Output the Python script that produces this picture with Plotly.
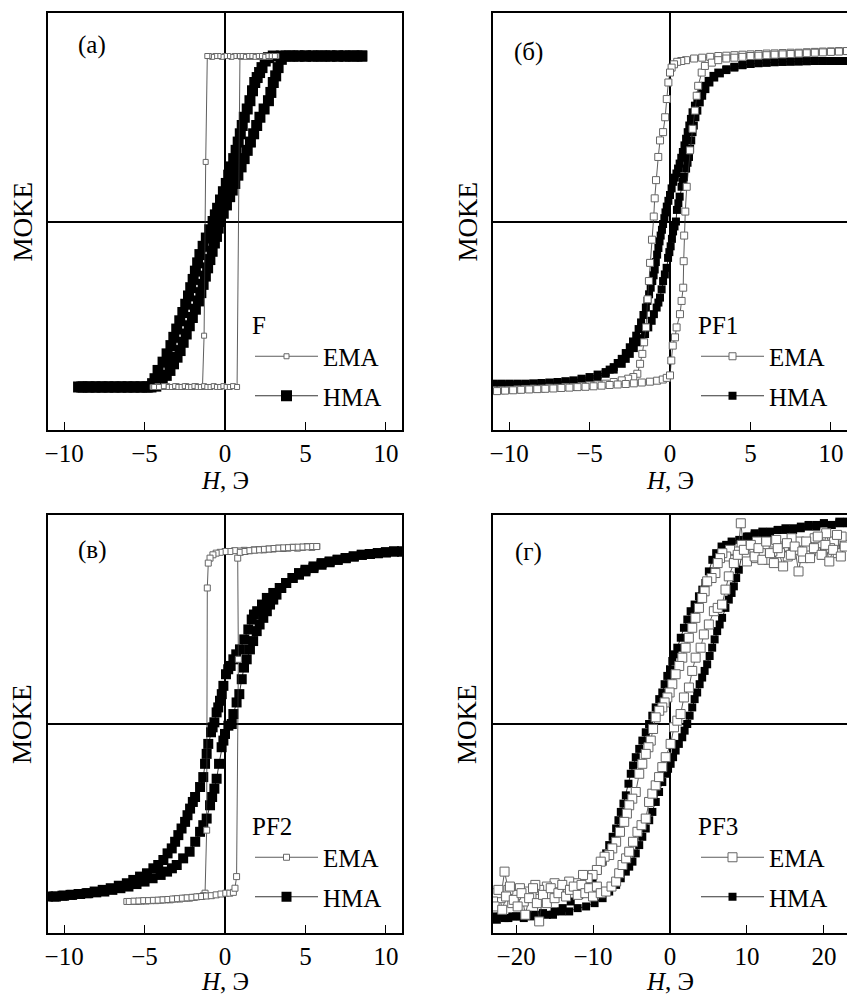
import plotly.graph_objects as go

FONT = "Liberation Serif, Times New Roman, serif"
FS = 25

# ---------------- data (H in Oe, MOKE in normalized units) ----------------
panel_labels = ["(а)", "(б)", "(в)", "(г)"]
sample_names = ["F", "PF1", "PF2", "PF3"]
series_names = ["EMA", "HMA"]
x_ranges = [[-11, 11], [-11, 11], [-11, 11], [-23, 23]]
x_ticks = [[-10, -5, 0, 5, 10], [-10, -5, 0, 5, 10], [-10, -5, 0, 5, 10], [-20, -10, 0, 10, 20]]

# (а) F
a_ema = [(3.2, 1.0), (3.0, 1.0), (2.8, 0.995), (2.6, 1.0), (2.4, 1.0), (2.2, 0.995), (2.0, 1.0), (1.8, 1.0),
         (1.6, 0.995), (1.4, 1.0), (1.2, 1.0), (1.0, 0.995), (0.8, 1.0), (0.6, 1.0), (0.4, 0.995), (0.2, 1.0),
         (0.0, 1.0), (-0.2, 0.995), (-0.4, 1.0), (-0.6, 1.0), (-0.8, 0.995), (-1.0, 1.0), (-1.1, 1.0),
         (-1.2, 0.36), (-1.3, -0.69), (-1.4, -1.0), (-1.6, -1.0), (-1.8, -0.995), (-2.0, -1.0), (-2.2, -1.0),
         (-2.4, -0.995), (-2.6, -1.0), (-2.8, -1.0), (-3.0, -0.995), (-3.2, -1.0), (-3.4, -1.0), (-3.6, -0.995),
         (-3.8, -1.0), (-4.0, -1.0), (-4.2, -0.995), (-4.5, -1.0),
         (-4.4, -1.0), (-4.1, -1.0), (-3.8, -0.995), (-3.5, -1.0), (-3.3, -1.0), (-3.1, -0.995), (-2.9, -1.0),
         (-2.7, -1.0), (-2.5, -0.995), (-2.3, -1.0), (-2.1, -1.0), (-1.9, -0.995), (-1.7, -1.0), (-1.5, -1.0),
         (-1.3, -0.995), (-1.1, -1.0), (-0.9, -1.0), (-0.7, -0.995), (-0.5, -1.0), (-0.3, -1.0), (-0.1, -0.995),
         (0.1, -1.0), (0.3, -1.0), (0.5, -0.995), (0.75, -1.0), (0.93, 1.0), (1.1, 1.0), (1.3, 0.995),
         (1.5, 1.0), (1.7, 1.0), (1.9, 0.995), (2.1, 1.0), (2.3, 1.0), (2.5, 0.995), (2.7, 1.0), (2.9, 1.0),
         (3.1, 1.0)]
a_hma = [(8.5, 1.0), (8.0, 1.0), (7.5, 1.0), (7.0, 1.0), (6.5, 1.0), (6.0, 1.0), (5.5, 1.0), (5.0, 1.0),
         (4.5, 1.0), (4.0, 1.0), (3.5, 1.0), (3.0, 1.0), (2.7, 0.99), (2.5, 0.97), (2.3, 0.93), (2.15, 0.90),
         (2.0, 0.87), (1.85, 0.84), (1.71, 0.79), (1.55, 0.73), (1.38, 0.68), (1.2, 0.63), (1.07, 0.58),
         (0.95, 0.53), (0.82, 0.48), (0.69, 0.43), (0.54, 0.38), (0.39, 0.33), (0.23, 0.28), (0.08, 0.23),
         (-0.10, 0.18), (-0.28, 0.13), (-0.46, 0.08), (-0.6, 0.04), (-0.74, 0.0), (-0.95, -0.05),
         (-1.16, -0.10), (-1.36, -0.15), (-1.56, -0.20), (-1.70, -0.25), (-1.84, -0.30), (-1.98, -0.35),
         (-2.13, -0.40), (-2.27, -0.45), (-2.44, -0.50), (-2.62, -0.55), (-2.81, -0.60), (-3.0, -0.65),
         (-3.18, -0.70), (-3.36, -0.75), (-3.6, -0.80), (-3.85, -0.85), (-4.16, -0.90), (-4.35, -0.95),
         (-4.5, -0.98), (-4.8, -1.0), (-5.2, -1.0), (-5.6, -1.0), (-6.0, -1.0), (-6.4, -1.0), (-6.8, -1.0),
         (-7.2, -1.0), (-7.6, -1.0), (-8.0, -1.0), (-8.4, -1.0), (-8.8, -1.0), (-9.1, -1.0),
         (-8.9, -1.0), (-8.5, -1.0), (-8.1, -1.0), (-7.7, -1.0), (-7.3, -1.0), (-6.9, -1.0), (-6.5, -1.0),
         (-6.1, -1.0), (-5.7, -1.0), (-5.3, -1.0), (-4.9, -1.0), (-4.6, -1.0), (-4.3, -0.995), (-4.1, -0.98),
         (-3.9, -0.96), (-3.65, -0.93), (-3.42, -0.90), (-3.2, -0.86), (-2.98, -0.82), (-2.79, -0.78),
         (-2.6, -0.73), (-2.41, -0.68), (-2.22, -0.63), (-2.03, -0.58), (-1.84, -0.53), (-1.65, -0.48),
         (-1.5, -0.43), (-1.36, -0.38), (-1.22, -0.33), (-1.08, -0.28), (-0.94, -0.23), (-0.8, -0.18),
         (-0.66, -0.13), (-0.53, -0.09), (-0.42, -0.04), (-0.31, 0.0), (-0.11, 0.05), (0.09, 0.10),
         (0.29, 0.15), (0.45, 0.19), (0.61, 0.23), (0.8, 0.28), (1.0, 0.33), (1.19, 0.38), (1.38, 0.43),
         (1.58, 0.48), (1.78, 0.53), (1.97, 0.58), (2.17, 0.63), (2.43, 0.68), (2.7, 0.73), (2.85, 0.78),
         (3.0, 0.84), (3.15, 0.88), (3.3, 0.93), (3.5, 0.98), (3.8, 1.0), (4.2, 1.0), (4.6, 1.0), (5.0, 1.0),
         (5.4, 1.0), (5.8, 1.0), (6.2, 1.0), (6.6, 1.0), (7.0, 1.0), (7.4, 1.0), (7.8, 1.0), (8.2, 1.0),
         (8.5, 1.0)]

# (б) PF1
b_ema = [(11, 1.03), (10.5, 1.03), (10, 1.028), (9.5, 1.027), (9, 1.025), (8.5, 1.023), (8, 1.02), (7.5, 1.02),
         (7, 1.018), (6.5, 1.016), (6, 1.015), (5.5, 1.012), (5, 1.01), (4.5, 1.008), (4, 1.005), (3.5, 1.002),
         (3, 1.0), (2.5, 0.995), (2, 0.99), (1.5, 0.985), (1.0, 0.975), (0.7, 0.97), (0.45, 0.965), (0.25, 0.95),
         (0.1, 0.93), (0.0, 0.90), (-0.1, 0.84), (-0.2, 0.74), (-0.3, 0.63), (-0.43, 0.54), (-0.62, 0.49),
         (-0.73, 0.39), (-0.87, 0.25), (-0.95, 0.14), (-1.01, 0.03), (-1.12, -0.11), (-1.24, -0.25),
         (-1.31, -0.36), (-1.39, -0.47), (-1.49, -0.64), (-1.61, -0.73), (-1.72, -0.80), (-1.86, -0.86),
         (-2.03, -0.92), (-2.28, -0.94), (-2.6, -0.95), (-3.0, -0.96), (-3.5, -0.97), (-4, -0.98), (-4.5, -0.985),
         (-5, -0.99), (-5.5, -0.995), (-6, -1.0), (-6.5, -1.0), (-7, -1.005), (-7.5, -1.005), (-8, -1.01),
         (-8.5, -1.01), (-9, -1.012), (-9.5, -1.015), (-10, -1.018), (-10.5, -1.02), (-11, -1.02),
         (-10.75, -1.025), (-10.25, -1.022), (-9.75, -1.02), (-9.25, -1.017), (-8.75, -1.015), (-8.25, -1.013),
         (-7.75, -1.011), (-7.25, -1.009), (-6.75, -1.006), (-6.25, -1.004), (-5.75, -1.001), (-5.25, -0.999),
         (-4.75, -0.996), (-4.25, -0.992), (-3.75, -0.988), (-3.25, -0.985), (-2.75, -0.982), (-2.25, -0.978),
         (-1.75, -0.973), (-1.25, -0.968), (-0.8, -0.962), (-0.45, -0.955), (-0.2, -0.945), (0.0, -0.93),
         (0.08, -0.84), (0.17, -0.75), (0.31, -0.70), (0.41, -0.64), (0.62, -0.56), (0.72, -0.48), (0.82, -0.40),
         (0.85, -0.24), (0.88, -0.085), (0.95, 0.06), (1.04, 0.21), (1.24, 0.43), (1.4, 0.56), (1.55, 0.67),
         (1.66, 0.76), (1.75, 0.82), (1.97, 0.90), (2.17, 0.94), (2.6, 0.96), (3.0, 0.975), (3.5, 0.985),
         (4.0, 0.99), (4.5, 0.995), (5.0, 1.0), (5.5, 1.002), (6.0, 1.005), (6.5, 1.008), (7.0, 1.01),
         (7.5, 1.012), (8.0, 1.015), (8.5, 1.017), (9.0, 1.02), (9.5, 1.022), (10.0, 1.025), (10.5, 1.027),
         (11, 1.03)]
b_hma = [(11, 0.97), (10.5, 0.97), (10, 0.97), (9.5, 0.97), (9, 0.97), (8.5, 0.968), (8, 0.967), (7.5, 0.966),
         (7, 0.965), (6.5, 0.963), (6, 0.96), (5.5, 0.957), (5, 0.952), (4.5, 0.945), (4, 0.935), (3.5, 0.92),
         (3.0, 0.90), (2.7, 0.88), (2.4, 0.85), (2.15, 0.82), (2.0, 0.79), (1.85, 0.76), (1.7, 0.73),
         (1.55, 0.70), (1.4, 0.66), (1.3, 0.62), (1.2, 0.58), (1.1, 0.54), (1.0, 0.50), (0.9, 0.46), (0.8, 0.42),
         (0.7, 0.385), (0.6, 0.35), (0.5, 0.32), (0.4, 0.29), (0.3, 0.265), (0.2, 0.24), (0.1, 0.20), (0.0, 0.16),
         (-0.1, 0.125), (-0.2, 0.09), (-0.28, 0.055), (-0.35, 0.02), (-0.43, -0.015), (-0.5, -0.05),
         (-0.58, -0.085), (-0.65, -0.12), (-0.72, -0.16), (-0.8, -0.20), (-0.88, -0.245), (-0.95, -0.29),
         (-1.02, -0.325), (-1.1, -0.36), (-1.2, -0.40), (-1.3, -0.44), (-1.4, -0.48), (-1.5, -0.52),
         (-1.65, -0.565), (-1.8, -0.61), (-1.95, -0.65), (-2.1, -0.69), (-2.3, -0.725), (-2.5, -0.76),
         (-2.75, -0.795), (-3.0, -0.83), (-3.25, -0.855), (-3.5, -0.88), (-3.75, -0.895), (-4.0, -0.91),
         (-4.5, -0.925), (-5.0, -0.94), (-5.5, -0.95), (-6.0, -0.96), (-6.5, -0.965), (-7.0, -0.97),
         (-7.5, -0.973), (-8.0, -0.976), (-8.5, -0.978), (-9.0, -0.98), (-9.5, -0.98), (-10, -0.98),
         (-10.5, -0.98), (-11, -0.98),
         (-11, -0.99), (-10.5, -0.99), (-10, -0.99), (-9.5, -0.988), (-9, -0.986), (-8.5, -0.984), (-8, -0.982),
         (-7.5, -0.98), (-7, -0.976), (-6.5, -0.972), (-6, -0.967), (-5.5, -0.96), (-5, -0.952), (-4.5, -0.94),
         (-4, -0.92), (-3.5, -0.895), (-3.0, -0.86), (-2.75, -0.83), (-2.5, -0.80), (-2.25, -0.765),
         (-2.0, -0.73), (-1.78, -0.705), (-1.55, -0.68), (-1.35, -0.64), (-1.14, -0.60), (-1.0, -0.56),
         (-0.83, -0.52), (-0.72, -0.49), (-0.62, -0.46), (-0.52, -0.41), (-0.43, -0.36), (-0.32, -0.32),
         (-0.21, -0.28), (-0.12, -0.22), (-0.04, -0.185), (0.04, -0.15), (0.12, -0.105), (0.19, -0.06),
         (0.28, -0.03), (0.37, 0.0), (0.43, 0.07), (0.52, 0.11), (0.6, 0.15), (0.72, 0.21), (0.8, 0.24),
         (0.87, 0.27), (1.0, 0.32), (1.09, 0.355), (1.18, 0.39), (1.25, 0.44), (1.32, 0.49), (1.4, 0.54),
         (1.48, 0.58), (1.58, 0.63), (1.7, 0.67), (1.85, 0.72), (2.0, 0.76), (2.2, 0.80), (2.45, 0.84),
         (2.75, 0.87), (3.1, 0.895), (3.5, 0.915), (4.0, 0.93), (4.5, 0.945), (5.0, 0.952), (5.5, 0.957),
         (6.0, 0.96), (6.5, 0.963), (7.0, 0.965), (7.5, 0.967), (8.0, 0.968), (8.5, 0.97), (9.0, 0.97),
         (9.5, 0.97), (10, 0.97), (10.5, 0.97), (11, 0.97)]

# (в) PF2
c_ema = [(5.7, 1.07), (5.4, 1.065), (5.1, 1.07), (4.8, 1.065), (4.5, 1.06), (4.2, 1.065), (3.9, 1.06),
         (3.6, 1.058), (3.3, 1.06), (3.0, 1.055), (2.7, 1.055), (2.4, 1.05), (2.1, 1.052), (1.8, 1.05),
         (1.5, 1.045), (1.2, 1.047), (0.9, 1.043), (0.6, 1.045), (0.3, 1.04), (0.0, 1.04), (-0.3, 1.035),
         (-0.55, 1.03), (-0.75, 1.02), (-0.93, 1.0), (-1.04, 0.97), (-1.1, 0.82), (-1.14, -0.64), (-1.24, -1.02),
         (-1.35, -1.035), (-1.6, -1.04), (-1.9, -1.045), (-2.2, -1.05), (-2.5, -1.05), (-2.8, -1.055),
         (-3.1, -1.055), (-3.4, -1.06), (-3.7, -1.06), (-4.0, -1.062), (-4.3, -1.065), (-4.6, -1.065),
         (-4.9, -1.067), (-5.2, -1.068), (-5.5, -1.07), (-5.8, -1.07), (-6.1, -1.07),
         (-5.95, -1.07), (-5.65, -1.068), (-5.35, -1.067), (-5.05, -1.065), (-4.75, -1.065), (-4.45, -1.063),
         (-4.15, -1.062), (-3.85, -1.06), (-3.55, -1.058), (-3.25, -1.055), (-2.95, -1.053), (-2.65, -1.05),
         (-2.35, -1.048), (-2.05, -1.045), (-1.75, -1.042), (-1.45, -1.04), (-1.15, -1.037), (-0.85, -1.035),
         (-0.55, -1.03), (-0.25, -1.025), (0.05, -1.02), (0.3, -1.02), (0.52, -1.015), (0.62, -0.99),
         (0.72, -0.92), (0.83, 0.39), (0.79, 1.0), (0.95, 1.035), (1.25, 1.04), (1.55, 1.045), (1.85, 1.048),
         (2.15, 1.05), (2.45, 1.053), (2.75, 1.055), (3.05, 1.058), (3.35, 1.06), (3.65, 1.062), (3.95, 1.063),
         (4.25, 1.065), (4.55, 1.066), (4.85, 1.067), (5.15, 1.068), (5.45, 1.07), (5.7, 1.07)]
c_hma = [(11, 1.04), (10.5, 1.04), (10, 1.035), (9.5, 1.03), (9, 1.025), (8.5, 1.02), (8, 1.01), (7.5, 1.0),
         (7, 0.99), (6.5, 0.975), (6, 0.96), (5.5, 0.94), (5, 0.92), (4.6, 0.90), (4.2, 0.88), (3.8, 0.85),
         (3.4, 0.82), (3.0, 0.79), (2.6, 0.76), (2.3, 0.72), (2.0, 0.68), (1.8, 0.66), (1.66, 0.63),
         (1.45, 0.57), (1.2, 0.51), (0.93, 0.45), (0.7, 0.42), (0.52, 0.39), (0.35, 0.35), (0.2, 0.33),
         (0.06, 0.30), (-0.1, 0.23), (-0.2, 0.18), (-0.31, 0.14), (-0.42, 0.10), (-0.52, 0.07), (-0.66, 0.01),
         (-0.77, -0.02), (-0.87, -0.05), (-1.04, -0.12), (-1.14, -0.18), (-1.24, -0.24), (-1.35, -0.32),
         (-1.55, -0.38), (-1.86, -0.44), (-2.0, -0.47), (-2.17, -0.51), (-2.33, -0.55), (-2.48, -0.59),
         (-2.7, -0.63), (-2.9, -0.67), (-3.1, -0.71), (-3.31, -0.75), (-3.57, -0.78), (-3.83, -0.82),
         (-4.15, -0.85), (-4.45, -0.87), (-4.85, -0.90), (-5.28, -0.92), (-5.7, -0.94), (-6.1, -0.96),
         (-6.6, -0.975), (-7.1, -0.99), (-7.6, -1.0), (-8.1, -1.01), (-8.6, -1.02), (-9.1, -1.025),
         (-9.6, -1.03), (-10.1, -1.035), (-10.6, -1.04), (-11, -1.04),
         (-10.5, -1.04), (-10, -1.035), (-9.5, -1.03), (-9, -1.025), (-8.5, -1.02), (-8, -1.015), (-7.5, -1.01),
         (-7, -1.0), (-6.5, -0.99), (-6, -0.98), (-5.5, -0.965), (-5, -0.95), (-4.5, -0.93), (-4.0, -0.91),
         (-3.6, -0.89), (-3.3, -0.87), (-3.0, -0.85), (-2.6, -0.81), (-2.2, -0.77), (-1.85, -0.71),
         (-1.55, -0.65), (-1.35, -0.61), (-1.14, -0.57), (-0.93, -0.49), (-0.8, -0.44), (-0.66, -0.39),
         (-0.52, -0.33), (-0.37, -0.24), (-0.21, -0.14), (-0.1, -0.10), (0.0, -0.06), (0.21, -0.01), (0.42, 0.0),
         (0.52, 0.06), (0.72, 0.13), (0.89, 0.18), (1.04, 0.27), (1.18, 0.34), (1.35, 0.39), (1.55, 0.45),
         (1.75, 0.50), (1.97, 0.56), (2.15, 0.60), (2.38, 0.64), (2.6, 0.68), (2.8, 0.72), (3.0, 0.75),
         (3.2, 0.78), (3.5, 0.82), (3.8, 0.85), (4.2, 0.88), (4.6, 0.91), (5.0, 0.93), (5.5, 0.95), (6, 0.97),
         (6.5, 0.98), (7, 0.99), (7.5, 1.0), (8, 1.01), (8.5, 1.02), (9, 1.025), (9.5, 1.03), (10, 1.035),
         (10.5, 1.04), (11, 1.04)]

# (г) PF3
d_ema = [(22.8, 1.08), (22.3, 1.13), (21.8, 1.03), (21.3, 1.10), (20.8, 1.06), (20.3, 1.15), (19.8, 1.02),
         (19.3, 1.09), (18.8, 1.12), (18.3, 1.04), (17.8, 1.07), (17.3, 1.0), (16.8, 1.10), (16.3, 1.05),
         (15.8, 1.12), (15.3, 1.01), (14.8, 1.07), (14.3, 1.03), (13.8, 1.11), (13.3, 1.04), (12.8, 0.99),
         (12.3, 1.08), (11.8, 1.03), (11.3, 1.10), (10.8, 1.0), (10.3, 1.06), (9.8, 1.02), (9.3, 1.08),
         (8.8, 1.04), (8.3, 0.99), (7.8, 1.05), (7.3, 1.01), (6.8, 1.03), (6.5, 1.0), (6.2, 0.97), (5.9, 0.91),
         (5.4, 0.88), (4.83, 0.86), (4.5, 0.80), (4.18, 0.76), (3.76, 0.70), (3.3, 0.64), (2.89, 0.58),
         (2.45, 0.52), (2.03, 0.46), (1.6, 0.40), (1.2, 0.35), (0.73, 0.30), (0.30, 0.24), (-0.05, 0.19),
         (-0.35, 0.16), (-0.7, 0.13), (-1.0, 0.10), (-1.4, 0.08), (-1.86, 0.04), (-2.2, -0.03), (-2.5, -0.10),
         (-2.8, -0.14), (-3.15, -0.18), (-3.6, -0.24), (-4.0, -0.30), (-4.45, -0.41), (-4.9, -0.45),
         (-5.3, -0.49), (-5.6, -0.54), (-5.95, -0.59), (-6.5, -0.65), (-7.0, -0.71), (-7.5, -0.75),
         (-7.9, -0.79), (-8.5, -0.80), (-9.0, -0.83), (-9.5, -0.88), (-10.06, -0.91), (-10.7, -0.93),
         (-11.3, -0.91), (-12.2, -0.96), (-13.1, -0.95), (-13.7, -1.0), (-14.4, -0.99), (-15.0, -0.96),
         (-15.5, -1.03), (-16.0, -0.98), (-16.5, -1.06), (-17.0, -1.0), (-17.5, -0.97), (-18.0, -1.04),
         (-18.5, -1.01), (-19.0, -1.07), (-19.5, -0.99), (-20.0, -1.03), (-20.5, -1.08), (-21.0, -1.0),
         (-21.5, -0.89), (-22.0, -1.05), (-22.5, -1.02), (-23.0, -1.07),
         (-22.8, -1.1), (-22.3, -1.0), (-21.8, -1.12), (-21.3, -1.04), (-20.8, -0.98), (-20.3, -1.06),
         (-19.8, -1.1), (-19.3, -1.02), (-18.8, -1.15), (-18.3, -1.05), (-17.8, -0.99), (-17.3, -1.08),
         (-17.0, -1.19), (-16.5, -1.03), (-16.0, -1.08), (-15.5, -0.99), (-15.0, -1.05), (-14.5, -1.02),
         (-14.0, -0.97), (-13.5, -1.04), (-13.0, -1.0), (-12.5, -0.98), (-12.0, -1.03), (-11.5, -0.97),
         (-11.0, -1.02), (-10.5, -0.99), (-10.0, -1.04), (-9.5, -0.98), (-9.0, -1.02), (-8.3, -1.01),
         (-7.6, -0.98), (-7.0, -0.95), (-6.6, -0.9), (-6.17, -0.85), (-5.7, -0.81), (-5.3, -0.77), (-4.8, -0.71),
         (-4.23, -0.65), (-3.7, -0.61), (-3.15, -0.57), (-2.72, -0.47), (-2.3, -0.42), (-1.86, -0.37),
         (-1.42, -0.32), (-1.0, -0.26), (-0.56, -0.20), (0.08, -0.12), (0.52, -0.02), (0.95, 0.02), (1.38, 0.06),
         (1.81, 0.16), (2.46, 0.22), (2.89, 0.32), (3.33, 0.40), (3.98, 0.46), (4.4, 0.54), (5.05, 0.60),
         (5.7, 0.68), (6.2, 0.70), (6.77, 0.72), (7.21, 0.81), (7.64, 0.89), (8.3, 0.97), (8.8, 1.02),
         (9.2, 1.21), (9.6, 1.05), (10.0, 0.98), (10.5, 1.08), (11.0, 1.01), (11.5, 1.06), (12.0, 0.99),
         (12.5, 1.1), (13.0, 1.03), (13.5, 0.97), (14.0, 1.06), (14.7, 0.95), (15.2, 1.09), (15.7, 1.02),
         (16.2, 1.07), (16.7, 0.92), (17.2, 1.04), (17.7, 1.1), (18.2, 1.0), (18.7, 1.06), (19.2, 1.13),
         (19.7, 1.02), (20.2, 1.08), (20.7, 0.98), (21.2, 1.05), (21.7, 1.14), (22.2, 1.01), (22.7, 1.07)]
d_hma = [(23, 1.22), (22, 1.21), (21, 1.2), (20, 1.21), (19, 1.19), (18, 1.2), (17, 1.18), (16, 1.18),
         (15, 1.17), (14, 1.17), (13, 1.16), (12, 1.15), (11, 1.15), (10, 1.13), (9, 1.11), (8, 1.1),
         (7.3, 1.08), (6.7, 1.07), (6.0, 1.03), (5.5, 0.99), (5.05, 0.92), (4.6, 0.85), (4.2, 0.81),
         (3.76, 0.77), (3.2, 0.72), (2.68, 0.68), (2.25, 0.63), (1.81, 0.58), (1.4, 0.52), (0.95, 0.46),
         (0.6, 0.42), (0.30, 0.38), (0.0, 0.33), (-0.35, 0.29), (-0.7, 0.24), (-1.0, 0.19), (-1.4, 0.15),
         (-1.86, 0.10), (-2.3, 0.05), (-2.72, 0.0), (-3.15, -0.05), (-3.59, -0.10), (-4.0, -0.15),
         (-4.45, -0.20), (-4.8, -0.25), (-5.1, -0.30), (-5.4, -0.36), (-5.74, -0.43), (-6.05, -0.48),
         (-6.39, -0.53), (-6.7, -0.58), (-7.0, -0.63), (-7.45, -0.68), (-7.9, -0.73), (-8.3, -0.78),
         (-8.76, -0.83), (-9.4, -0.88), (-10.06, -0.93), (-10.9, -0.98), (-11.8, -1.03), (-12.9, -1.07),
         (-13.95, -1.11), (-15, -1.13), (-16, -1.15), (-17, -1.16), (-18, -1.16), (-19, -1.17), (-20, -1.16),
         (-21, -1.17), (-22, -1.16), (-23, -1.16),
         (-22.5, -1.18), (-21.5, -1.17), (-20.5, -1.16), (-19.5, -1.16), (-18.5, -1.15), (-17.5, -1.15),
         (-16.5, -1.14), (-15.2, -1.15), (-14.1, -1.13), (-13.1, -1.13), (-12.0, -1.11), (-10.9, -1.10),
         (-9.8, -1.08), (-8.76, -1.05), (-7.9, -1.01), (-7.0, -0.97), (-6.4, -0.93), (-5.74, -0.89),
         (-5.3, -0.86), (-4.88, -0.83), (-4.45, -0.78), (-4.0, -0.73), (-3.6, -0.68), (-3.15, -0.63),
         (-2.7, -0.58), (-2.29, -0.53), (-1.85, -0.47), (-1.42, -0.41), (-1.0, -0.35), (-0.56, -0.30),
         (-0.25, -0.27), (0.08, -0.24), (0.4, -0.20), (0.73, -0.16), (1.15, -0.12), (1.59, -0.08),
         (1.9, -0.04), (2.24, 0.0), (2.55, 0.05), (2.89, 0.10), (3.2, 0.15), (3.53, 0.19), (3.85, 0.24),
         (4.18, 0.28), (4.5, 0.32), (4.83, 0.36), (5.15, 0.41), (5.48, 0.46), (5.8, 0.51), (6.13, 0.56),
         (6.45, 0.60), (6.77, 0.64), (7.2, 0.70), (7.64, 0.75), (8.0, 0.79), (8.3, 0.83), (8.6, 0.88),
         (8.94, 0.93), (9.5, 1.05), (10.2, 1.13), (11, 1.14), (12, 1.16), (13, 1.15), (14, 1.17), (15, 1.18),
         (16, 1.17), (17, 1.19), (18, 1.19), (19, 1.2), (20, 1.21), (21, 1.2), (22, 1.22), (23, 1.21)]

ema_data = [a_ema, b_ema, c_ema, d_ema]
hma_data = [a_hma, b_hma, c_hma, d_hma]

# ---------------- styling / layout ----------------
W, H = 847, 997
col_px = [(48, 402), (493, 847)]
row_px = [(13, 430), (515, 933)]
ema_size = [5, 7, 6, 9]
hma_size = [11, 8, 10, 8]

fig = go.Figure()
layout = dict(width=W, height=H, margin=dict(l=0, r=0, t=0, b=0),
              paper_bgcolor="white", plot_bgcolor="white", showlegend=True,
              font=dict(family=FONT, size=FS, color="black"))
annotations = []

for i in range(4):
    r, c = divmod(i, 2)
    sfx = "" if i == 0 else str(i + 1)
    xa, ya = "x" + sfx, "y" + sfx
    lg = "legend" + sfx
    x0, x1 = col_px[c]
    y0, y1 = row_px[r]
    xdom = [x0 / W, x1 / W]
    ydom = [1 - y1 / H, 1 - y0 / H]

    hh, hm = zip(*hma_data[i])
    fig.add_trace(go.Scatter(
        x=list(hh), y=list(hm), mode="lines+markers", name=series_names[1],
        xaxis=xa, yaxis=ya, legend=lg, legendgroup="h" + str(i), legendrank=2,
        line=dict(color="black", width=0.8),
        marker=dict(symbol="square", size=hma_size[i], color="black", line=dict(width=0))))
    eh, em = zip(*ema_data[i])
    fig.add_trace(go.Scatter(
        x=list(eh), y=list(em), mode="lines+markers", name=series_names[0],
        xaxis=xa, yaxis=ya, legend=lg, legendgroup="e" + str(i), legendrank=1,
        line=dict(color="#333333", width=0.8),
        marker=dict(symbol="square", size=ema_size[i], color="white",
                    line=dict(color="#666666", width=1))))

    layout["xaxis" + sfx] = dict(
        domain=xdom, range=x_ranges[i], anchor=ya, tickvals=x_ticks[i], ticks="inside",
        ticklen=8, tickwidth=1, tickcolor="black", showline=True, mirror=True, linecolor="black",
        linewidth=1.5, showgrid=False, zeroline=True, zerolinecolor="black", zerolinewidth=1.5,
        automargin=False, ticklabelstandoff=0, tickfont=dict(size=FS, family=FONT, color="black"))
    layout["yaxis" + sfx] = dict(
        domain=ydom, range=[-1.26, 1.26], anchor=xa, showticklabels=False, ticks="",
        showline=True, mirror=True, linecolor="black", linewidth=1.5, showgrid=False,
        zeroline=True, zerolinecolor="black", zerolinewidth=1.5, automargin=False)

    # legend placement inside each panel
    lx = 250 if c == 0 else 696
    ly = 301 if r == 0 else 802
    layout[lg] = dict(x=lx / W, y=1 - ly / H, xanchor="left", yanchor="top",
                      bgcolor="rgba(0,0,0,0)", tracegroupgap=4, itemwidth=63,
                      font=dict(family=FONT, size=FS, color="black"),
                      title=dict(text=sample_names[i], font=dict(family=FONT, size=FS, color="black")))

    # panel label
    lab_xy = [(92, 45), (528, 52), (92, 550), (528, 552)][i]
    annotations.append(dict(text=panel_labels[i], x=lab_xy[0] / W, y=1 - lab_xy[1] / H,
                            xref="paper", yref="paper", showarrow=False,
                            xanchor="center", yanchor="middle",
                            font=dict(family=FONT, size=FS, color="black")))
    # x title
    annotations.append(dict(text="<i>H</i>, Э", x=(225 if c == 0 else 670) / W,
                            y=1 - (480 if r == 0 else 981) / H, xref="paper", yref="paper",
                            showarrow=False, xanchor="center", yanchor="middle",
                            font=dict(family=FONT, size=FS, color="black")))
    # y title
    annotations.append(dict(text="MOKE", x=(x0 - 26) / W, y=1 - ((y0 + y1) / 2) / H,
                            xref="paper", yref="paper", showarrow=False, textangle=-90,
                            xanchor="center", yanchor="middle",
                            font=dict(family=FONT, size=27, color="black")))

layout["annotations"] = annotations
fig.update_layout(**layout)
fig.write_html("out.html", config={"displayModeBar": False},
               post_script="document.body.style.margin='0px';")
